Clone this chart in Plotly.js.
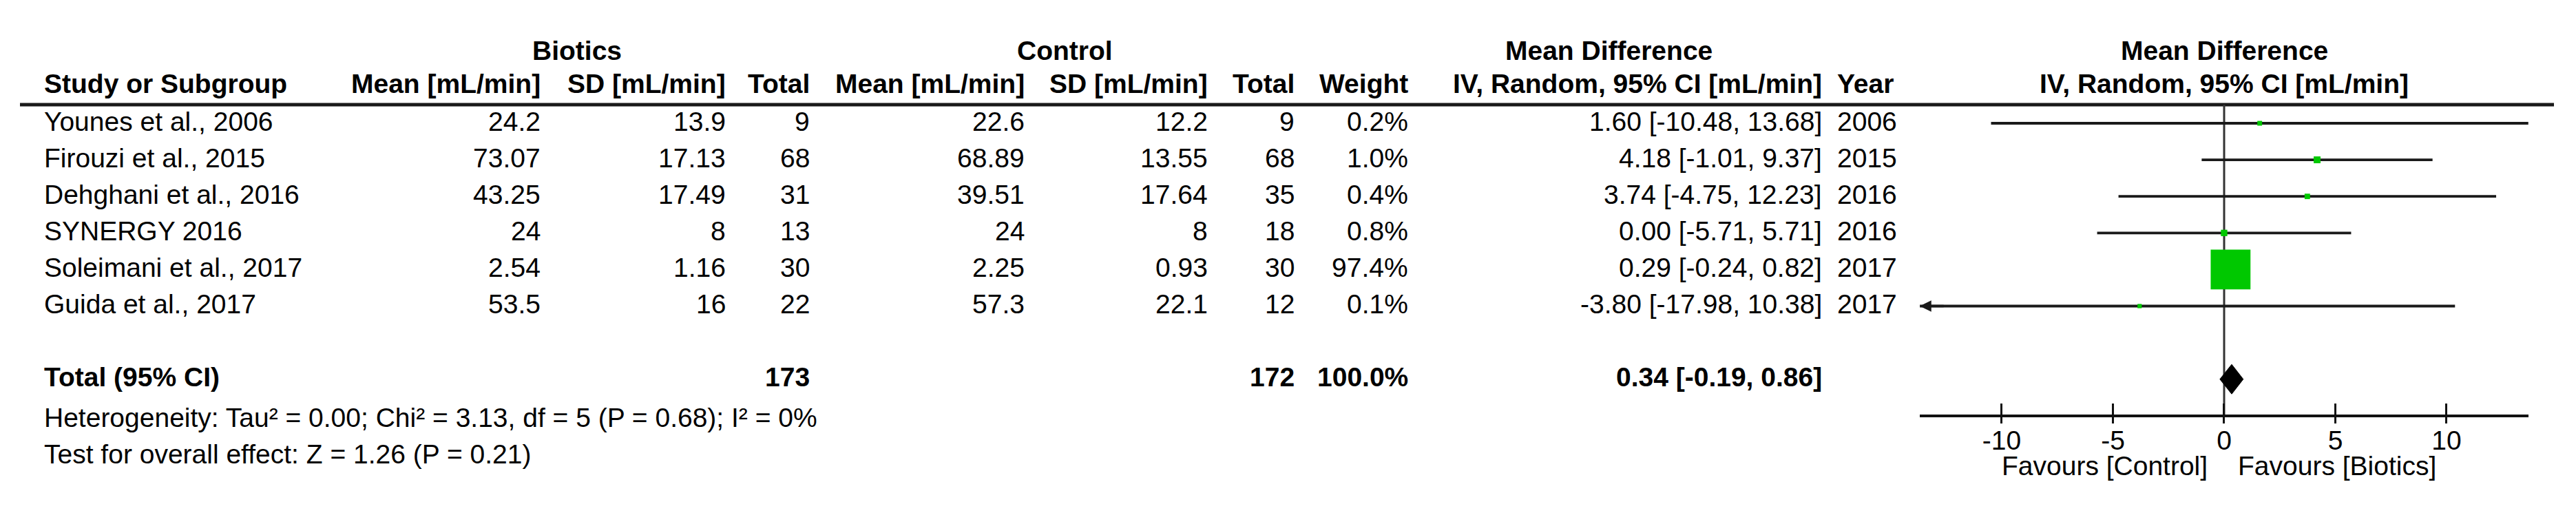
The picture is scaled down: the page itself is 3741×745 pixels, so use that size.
<!DOCTYPE html>
<html><head><meta charset="utf-8">
<script src="https://cdn.plot.ly/plotly-3.0.1.min.js"></script>
<style>html,body{margin:0;padding:0;background:#fff}#chart{width:3741px;height:745px}</style>
</head><body><div id="chart"></div>
<script>
// ---------------- data ----------------
const studies = ['Younes et al., 2006', 'Firouzi et al., 2015', 'Dehghani et al., 2016', 'SYNERGY 2016', 'Soleimani et al., 2017', 'Guida et al., 2017'];
const bioMean = ['24.2', '73.07', '43.25', '24', '2.54', '53.5'];
const bioSD = ['13.9', '17.13', '17.49', '8', '1.16', '16'];
const bioN = [9, 68, 31, 13, 30, 22];
const ctlMean = ['22.6', '68.89', '39.51', '24', '2.25', '57.3'];
const ctlSD = ['12.2', '13.55', '17.64', '8', '0.93', '22.1'];
const ctlN = [9, 68, 35, 18, 30, 12];
const weights = [0.2, 1.0, 0.4, 0.8, 97.4, 0.1];
const md = [1.60, 4.18, 3.74, 0.00, 0.29, -3.80];
const ciLo = [-10.48, -1.01, -4.75, -5.71, -0.24, -17.98];
const ciHi = [13.68, 9.37, 12.23, 5.71, 0.82, 10.38];
const years = ['2006', '2015', '2016', '2016', '2017', '2017'];
const totalLabel = 'Total (95% CI)';
const totalBioN = 173;
const totalCtlN = 172;
const totalWeight = 100.0;
const totalMd = 0.34;
const totalLo = -0.19;
const totalHi = 0.86;
const heterogeneityText = 'Heterogeneity: Tau² = 0.00; Chi² = 3.13, df = 5 (P = 0.68); I² = 0%';
const overallText = 'Test for overall effect: Z = 1.26 (P = 0.21)';
const tickVals = [-10, -5, 0, 5, 10];
const tickText = ['-10', '-5', '0', '5', '10'];
const favLeft = 'Favours [Control]';
const favRight = 'Favours [Biotics]';

// ---------------- layout geometry ----------------
const W = 3741, H = 745;
const FONT = 'Liberation Sans, Arial, Helvetica, sans-serif';
const FS = 39;
const INK = '#000';
const LINE = '#1a1a1a';
const ROW0 = 179, ROWH = 53.1;
const toIdx = p => (p - ROW0) / ROWH;
const X0PX = 3230, PXU = 32.3, XMAX = 13.68;
const xDomain = [(X0PX - XMAX * PXU) / W, (X0PX + XMAX * PXU) / W];
const AXIS_PX = 604;
const axisPos = (H - AXIS_PX) / H;
const HEADLINE_PX = 152;
const TSHIFT = 3;

const col = {
  study: 62, bioMean: 787, bioSD: 1056, bioN: 1178,
  ctlMean: 1490, ctlSD: 1756, ctlN: 1882, weight: 2047,
  ci: 2648, year: 2666
};

function txt(text, xPx, yIdx, anchor, bold) {
  return {
    xref: 'paper', yref: 'y', x: xPx / W, y: yIdx,
    xanchor: anchor, yanchor: 'middle', yshift: TSHIFT,
    text: bold ? '<b>' + text + '</b>' : text,
    showarrow: false, font: { family: FONT, size: FS, color: INK }
  };
}
const fmt2 = v => v.toFixed(2);
const ciStr = (m, l, h) => fmt2(m) + ' [' + fmt2(l) + ', ' + fmt2(h) + ']';

const ann = [];
// group headers
const hdr1 = toIdx(76), hdr2 = toIdx(124);
ann.push(txt('Biotics', 838, hdr1, 'center', true));
ann.push(txt('Control', 1546, hdr1, 'center', true));
ann.push(txt('Mean Difference', 2336, hdr1, 'center', true));
ann.push(txt('Mean Difference', X0PX, hdr1, 'center', true));
// column headers
ann.push(txt('Study or Subgroup', col.study, hdr2, 'left', true));
ann.push(txt('Mean [mL/min]', col.bioMean, hdr2, 'right', true));
ann.push(txt('SD [mL/min]', col.bioSD, hdr2, 'right', true));
ann.push(txt('Total', col.bioN, hdr2, 'right', true));
ann.push(txt('Mean [mL/min]', col.ctlMean, hdr2, 'right', true));
ann.push(txt('SD [mL/min]', col.ctlSD, hdr2, 'right', true));
ann.push(txt('Total', col.ctlN, hdr2, 'right', true));
ann.push(txt('Weight', col.weight, hdr2, 'right', true));
ann.push(txt('IV, Random, 95% CI [mL/min]', col.ci, hdr2, 'right', true));
ann.push(txt('Year', col.year, hdr2, 'left', true));
ann.push(txt('IV, Random, 95% CI [mL/min]', X0PX, hdr2, 'center', true));

// study rows
studies.forEach((s, i) => {
  ann.push(txt(s, col.study, i, 'left'));
  ann.push(txt(bioMean[i], col.bioMean, i, 'right'));
  ann.push(txt(bioSD[i], col.bioSD, i, 'right'));
  ann.push(txt(String(bioN[i]), col.bioN, i, 'right'));
  ann.push(txt(ctlMean[i], col.ctlMean, i, 'right'));
  ann.push(txt(ctlSD[i], col.ctlSD, i, 'right'));
  ann.push(txt(String(ctlN[i]), col.ctlN, i, 'right'));
  ann.push(txt(weights[i].toFixed(1) + '%', col.weight, i, 'right'));
  ann.push(txt(ciStr(md[i], ciLo[i], ciHi[i]), col.ci, i, 'right'));
  ann.push(txt(years[i], col.year, i, 'left'));
});

// total row
const TOT = studies.length + 1;
ann.push(txt(totalLabel, col.study, TOT, 'left', true));
ann.push(txt(String(totalBioN), col.bioN, TOT, 'right', true));
ann.push(txt(String(totalCtlN), col.ctlN, TOT, 'right', true));
ann.push(txt(totalWeight.toFixed(1) + '%', col.weight, TOT, 'right', true));
ann.push(txt(ciStr(totalMd, totalLo, totalHi), col.ci, TOT, 'right', true));

// footnotes
ann.push(txt(heterogeneityText, col.study, toIdx(609), 'left'));
ann.push(txt(overallText, col.study, toIdx(662), 'left'));

// favours labels
const favIdx = toIdx(676);
ann.push({ xref: 'x', yref: 'y', x: 0, y: favIdx, xanchor: 'right', yanchor: 'middle', xshift: -22,
  text: favLeft, showarrow: false, font: { family: FONT, size: FS, color: INK } });
ann.push({ xref: 'x', yref: 'y', x: 0, y: favIdx, xanchor: 'left', yanchor: 'middle', xshift: 18,
  text: favRight, showarrow: false, font: { family: FONT, size: FS, color: INK } });

// arrows for CIs running off the axis
studies.forEach((s, i) => {
  if (ciLo[i] < -XMAX) {
    ann.push({ xref: 'x', yref: 'y', x: -XMAX, y: i, ax: 36, ay: 0, text: '', showarrow: true,
      arrowhead: 2, arrowsize: 0.95, arrowwidth: 3.5, arrowcolor: LINE, standoff: 0 });
  }
  if (ciHi[i] > XMAX) {
    ann.push({ xref: 'x', yref: 'y', x: XMAX, y: i, ax: -36, ay: 0, text: '', showarrow: true,
      arrowhead: 2, arrowsize: 0.95, arrowwidth: 3.5, arrowcolor: LINE, standoff: 0 });
  }
});

// ---------------- traces ----------------
const ciX = [], ciY = [];
studies.forEach((s, i) => { ciX.push(ciLo[i], ciHi[i], null); ciY.push(i, i, null); });
const ciTrace = { type: 'scatter', mode: 'lines', x: ciX, y: ciY, line: { color: LINE, width: 3.8 }, hoverinfo: 'skip' };
const sqTrace = {
  type: 'scatter', mode: 'markers', x: md, y: studies.map((s, i) => i),
  marker: { symbol: 'square', size: weights.map(w => 5.4 * Math.sqrt(w) + 4.5), color: '#00c800', opacity: 1, line: { width: 0 } },
  hoverinfo: 'skip'
};
const DH = 21.5 / ROWH;
const diamond = {
  type: 'scatter', mode: 'lines', xaxis: 'x2',
  x: [totalLo, totalMd, totalHi, totalMd, totalLo],
  y: [TOT, TOT - DH, TOT, TOT + DH, TOT],
  fill: 'toself', fillcolor: '#000', line: { color: '#000', width: 1 }, hoverinfo: 'skip'
};

const layout = {
  width: W, height: H,
  margin: { l: 0, r: 0, t: 0, b: 0, pad: 0 },
  paper_bgcolor: '#fff', plot_bgcolor: 'rgba(0,0,0,0)',
  showlegend: false, hovermode: false,
  font: { family: FONT, size: FS, color: INK },
  xaxis: {
    domain: xDomain, range: [-XMAX, XMAX], anchor: 'free', position: axisPos,
    showline: true, linecolor: '#111', linewidth: 4,
    ticks: 'inside', ticklen: 16, tickwidth: 3, tickcolor: '#111',
    tickvals: tickVals, ticktext: tickText, ticklabelstandoff: 0,
    tickfont: { family: FONT, size: FS, color: INK },
    showgrid: false, zeroline: false, fixedrange: true
  },
  xaxis2: {
    domain: xDomain, range: [-XMAX, XMAX], overlaying: 'x', matches: 'x', anchor: 'free', position: axisPos,
    showline: false, ticks: 'outside', ticklen: 10, tickwidth: 3, tickcolor: '#111',
    tickvals: tickVals, showticklabels: false, showgrid: false, zeroline: false, fixedrange: true
  },
  yaxis: { domain: [0, 1], range: [toIdx(H), toIdx(0)], visible: false, showgrid: false, zeroline: false, fixedrange: true },
  shapes: [
    { type: 'line', layer: 'below', xref: 'paper', yref: 'y', x0: 29 / W, x1: 3709 / W, y0: toIdx(HEADLINE_PX), y1: toIdx(HEADLINE_PX),
      line: { color: '#1a1a1a', width: 5 } },
    { type: 'line', layer: 'below', xref: 'x', yref: 'y', x0: 0, x1: 0, y0: toIdx(HEADLINE_PX), y1: toIdx(AXIS_PX),
      line: { color: '#333', width: 3 } }
  ],
  annotations: ann
};

Plotly.newPlot('chart', [ciTrace, sqTrace, diamond], layout, { staticPlot: true, displayModeBar: false });
</script></body></html>
